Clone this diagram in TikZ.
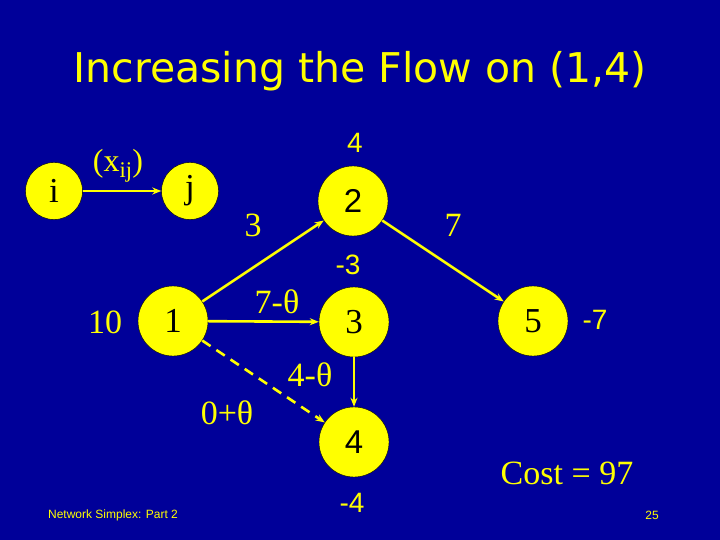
\documentclass[tikz,border=0pt]{standalone}
\usepackage{fontspec}
\setmainfont{Liberation Serif}
\setsansfont{Liberation Sans}
\newfontfamily\titlefont{DejaVu Sans}
\usepackage{tikz}
\usetikzlibrary{arrows.meta}
\definecolor{nsblue}{HTML}{000099}
\definecolor{nsyellow}{HTML}{FFFF00}

\begin{document}
\begin{tikzpicture}[x=1pt,y=-1pt,>={Stealth[length=9pt,width=7pt]},
    vtx/.style={circle,draw=black,fill=nsyellow,minimum size=70pt,inner sep=0pt,font=\fontsize{35}{35}\selectfont},
    smallvtx/.style={vtx,minimum size=57pt},
    lbl/.style={text=nsyellow,inner sep=1pt,font=\fontsize{34}{34}\selectfont},
    pot/.style={text=nsyellow,inner sep=1pt,font=\sffamily\fontsize{28}{28}\selectfont},
    arc/.style={->,draw=nsyellow,line width=2.6pt}]
    \useasboundingbox (0,0) rectangle (720,540);
    \fill[nsblue] (0,0) rectangle (720,540);
    \node[text=nsyellow,font=\titlefont\fontsize{41}{41}\selectfont] (title) at (360,71) {Increasing the Flow on (1,4)};
    % legend arc
    \node[smallvtx] (ni) at (54,191) {i};
    \node[smallvtx] (nj) at (190,191) {j};
    \draw[arc] (ni)--(nj);
    \node[lbl,font=\fontsize{32}{32}\selectfont] (xij) at (118,166) {(x\textsubscript{ij})};
    % tree
    \node[vtx] (n1) at (173,321) {1};
    \node[vtx,font=\sffamily\fontsize{33}{33}\selectfont] (n2) at (353,201) {2};
    \node[vtx] (n3) at (354,322) {3};
    \node[vtx,font=\sffamily\fontsize{33}{33}\selectfont] (n4) at (354,442) {4};
    \node[vtx] (n5) at (533,321) {5};
    \draw[arc] (n1)--(n2);
    \draw[arc] (n2)--(n5);
    \draw[arc] (n1)--(n3);
    \draw[arc,line width=1.6pt] (n3)--(n4);
    \draw[arc,dash pattern=on 10pt off 7pt] (n1)--(n4);
    % flows and potentials
    \node[lbl] (s1) at (105,322) {10};
    \node[lbl] (f12) at (253,225) {3};
    \node[lbl] (f25) at (453,225) {7};
    \node[lbl] (f13) at (277,302) {7-θ};
    \node[lbl] (f34) at (310,375) {4-θ};
    \node[lbl] (f14) at (227,413) {0+θ};
    \node[pot] (p2) at (355,143) {4};
    \node[pot] (p3) at (348,265) {-3};
    \node[pot] (p5) at (595,320) {-7};
    \node[pot] (p4) at (352,503) {-4};
    \node[lbl] (cost) at (567,473) {Cost = 97};
    \node[text=nsyellow,font=\sffamily\fontsize{12}{12}\selectfont] (foot) at (113,515) {Network Simplex: Part 2};
    \node[text=nsyellow,font=\sffamily\fontsize{12}{12}\selectfont] (page) at (652,515) {25};
\end{tikzpicture}
\end{document}
